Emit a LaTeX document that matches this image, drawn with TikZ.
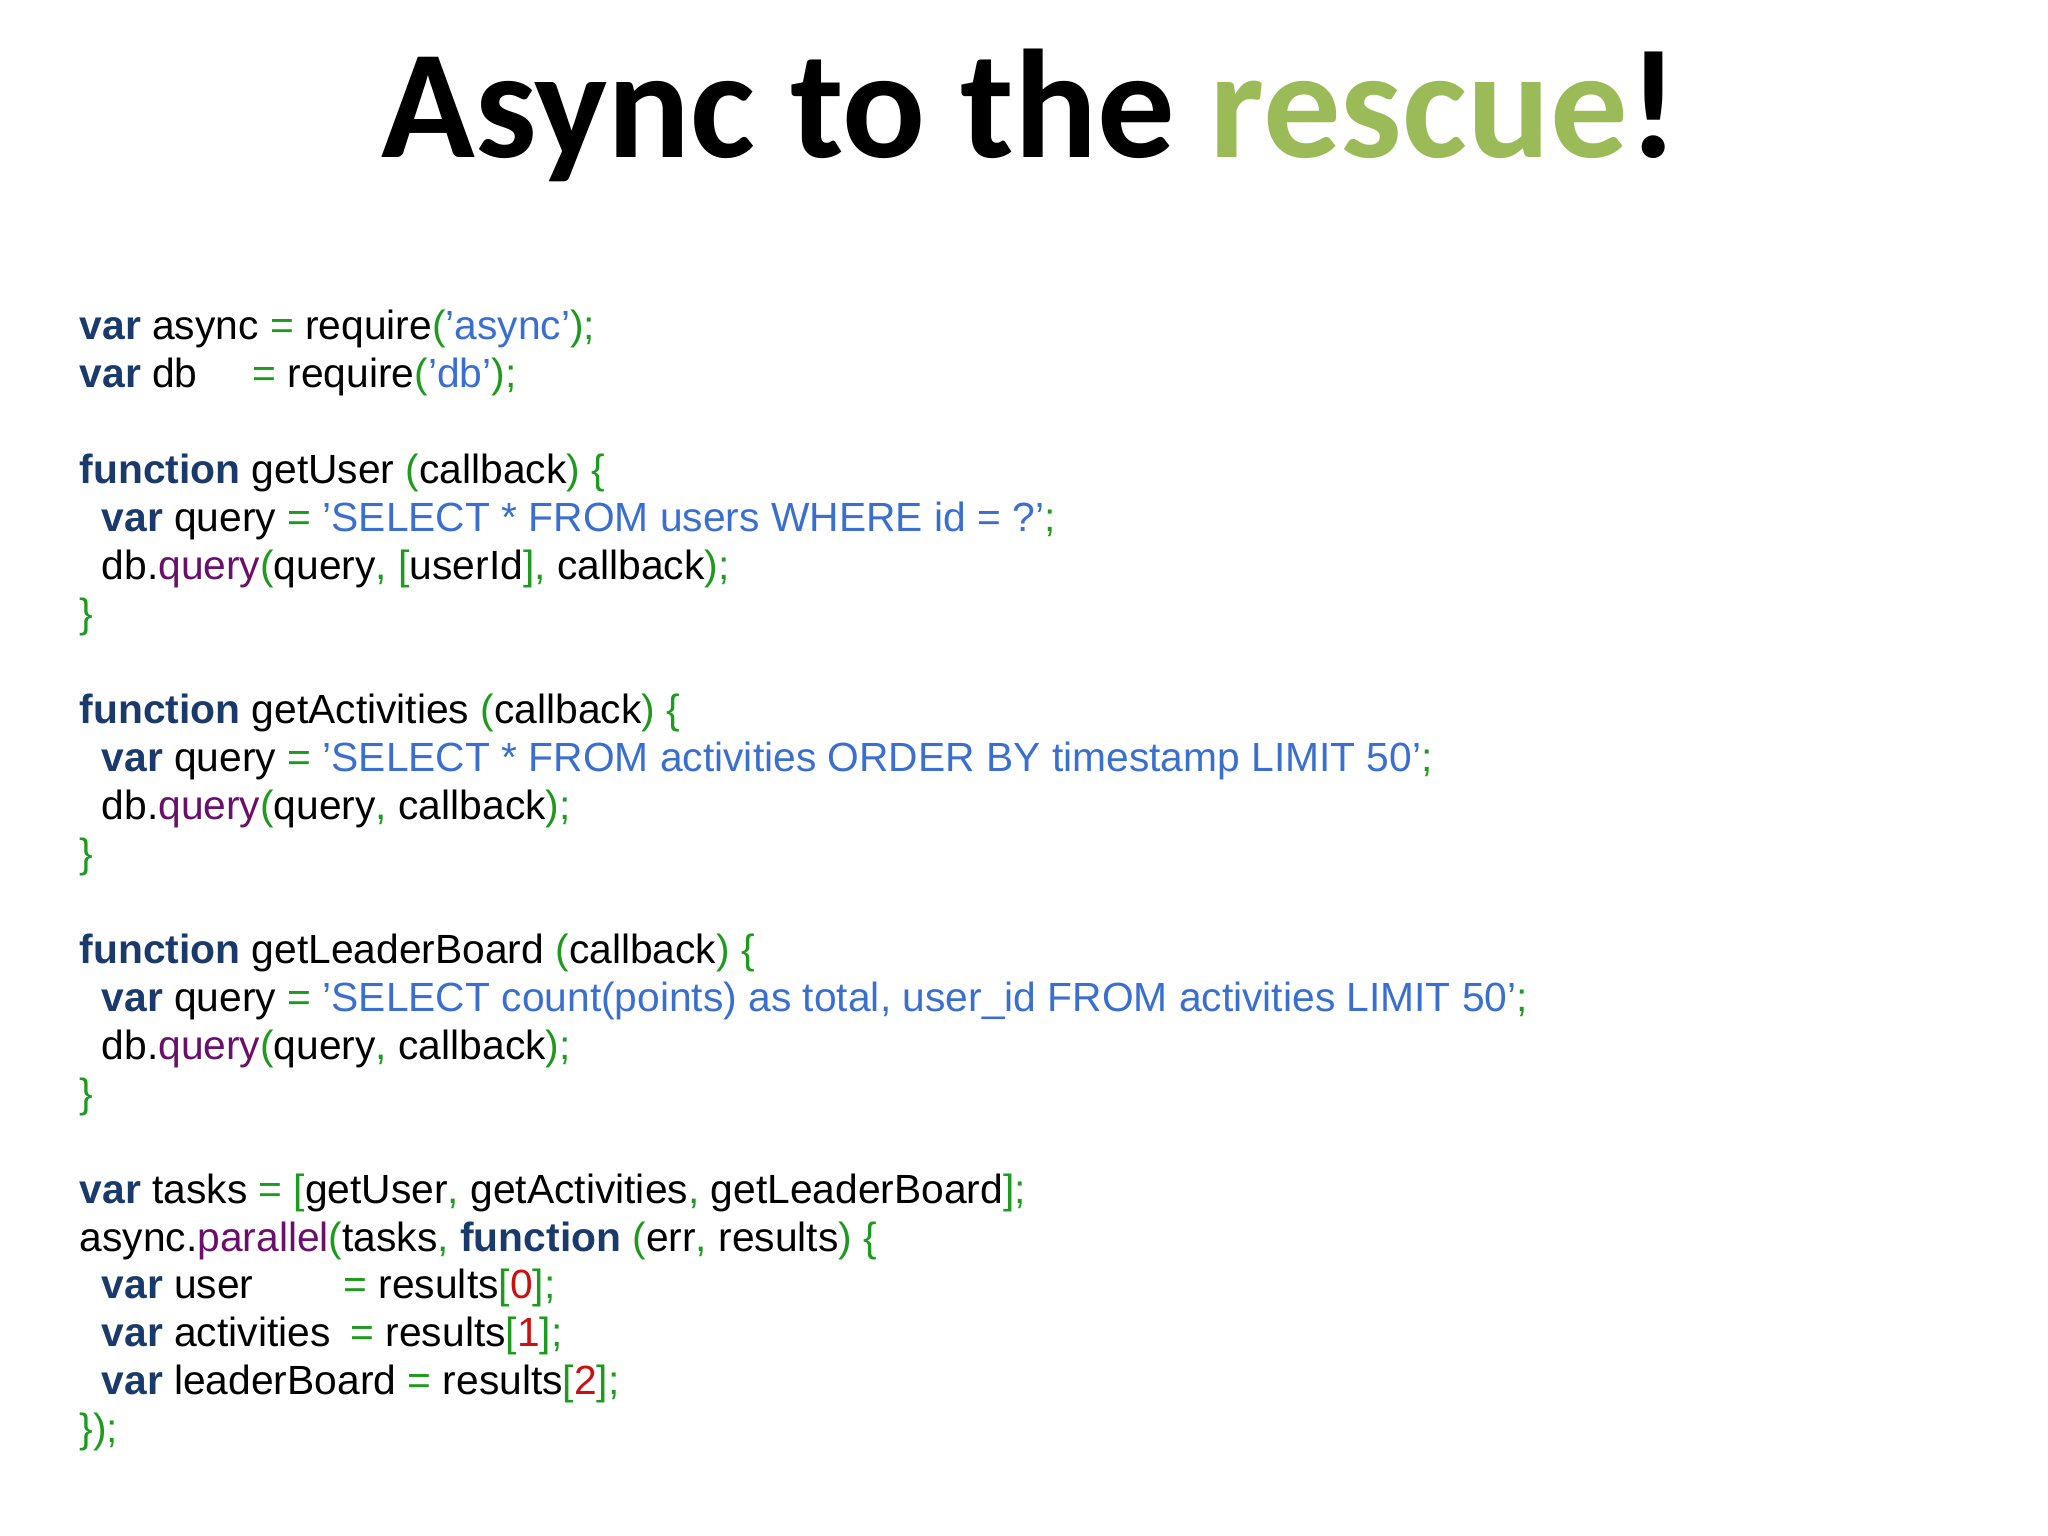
\documentclass[tikz,border=0pt]{standalone}
\usepackage{fontspec}
\setmainfont{Liberation Sans}
\newfontfamily\titlefont{Carlito}
\usepackage{xcolor}
\definecolor{kwcol}{HTML}{1A3A6B}
\definecolor{pucol}{HTML}{1E9A1E}
\definecolor{stcol}{HTML}{3A6FD0}
\definecolor{fncol}{HTML}{6A0F6A}
\definecolor{nmcol}{HTML}{CC1010}
\definecolor{rescue}{HTML}{9BBB59}
\newcommand{\kw}[1]{\textbf{\textcolor{kwcol}{#1}}}
\newcommand{\pu}[1]{\textcolor{pucol}{#1}}
\newcommand{\st}[1]{\textcolor{stcol}{#1}}
\newcommand{\fn}[1]{\textcolor{fncol}{#1}}
\newcommand{\nm}[1]{\textcolor{nmcol}{#1}}
\newcommand{\ind}{\hspace*{0.22cm}}
\begin{document}
\begin{tikzpicture}[x=1cm,y=1cm,
		codeline/.style={anchor=base west, inner sep=0pt, font=\fontsize{11.6pt}{14pt}\selectfont},
		titletext/.style={anchor=base, inner sep=0pt, font=\titlefont\bfseries\fontsize{44pt}{50pt}\selectfont}]
		\useasboundingbox (0,0) rectangle (20.48,15.36);
		%
		\node[titletext] (title) at (10.3,13.78) {Async to the \textcolor{rescue}{rescue}!};
		%
		\def\lh{0.4795}
		\node[codeline] (l0) at (0.79,11.96) {\kw{var} async \pu{=} require\pu{(}\st{'async'}\pu{);}};
		\node[codeline] (l1) at (0.79,11.96-1*\lh) {\kw{var} db\hspace*{0.55cm}\pu{=} require\pu{(}\st{’db'}\pu{);}};
		\node[codeline] (l3) at (0.79,11.96-3*\lh) {\kw{function} getUser \pu{(}callback\pu{) \{}};
		\node[codeline] (l4) at (0.79,11.96-4*\lh) {\ind\kw{var} query \pu{=} \st{'SELECT * FROM users WHERE id = ?'}\pu{;}};
		\node[codeline] (l5) at (0.79,11.96-5*\lh) {\ind db.\fn{query}\pu{(}query\pu{,} \pu{[}userId\pu{]}\pu{,} callback\pu{);}};
		\node[codeline] (l6) at (0.79,11.96-6*\lh) {\pu{\}}};
		%
		\node[codeline] (l8) at (0.79,11.96-8*\lh) {\kw{function} getActivities \pu{(}callback\pu{) \{}};
		\node[codeline] (l9) at (0.79,11.96-9*\lh) {\ind\kw{var} query \pu{=} \st{'SELECT * FROM activities ORDER BY timestamp LIMIT 50'}\pu{;}};
		\node[codeline] (l10) at (0.79,11.96-10*\lh) {\ind db.\fn{query}\pu{(}query\pu{,} callback\pu{);}};
		\node[codeline] (l11) at (0.79,11.96-11*\lh) {\pu{\}}};
		%
		\node[codeline] (l13) at (0.79,11.96-13*\lh) {\kw{function} getLeaderBoard \pu{(}callback\pu{) \{}};
		\node[codeline] (l14) at (0.79,11.96-14*\lh) {\ind\kw{var} query \pu{=} \st{'SELECT count(points) as total, user\_id FROM activities LIMIT 50'}\pu{;}};
		\node[codeline] (l15) at (0.79,11.96-15*\lh) {\ind db.\fn{query}\pu{(}query\pu{,} callback\pu{);}};
		\node[codeline] (l16) at (0.79,11.96-16*\lh) {\pu{\}}};
		%
		\node[codeline] (l18) at (0.79,11.96-18*\lh) {\kw{var} tasks \pu{=} \pu{[}getUser\pu{,} getActivities\pu{,} getLeaderBoard\pu{];}};
		\node[codeline] (l19) at (0.79,11.96-19*\lh) {async.\fn{parallel}\pu{(}tasks\pu{,} \kw{function} \pu{(}err\pu{,} results\pu{) \{}};
		\node[codeline] (l20) at (0.79,11.96-20*\lh) {\ind\kw{var} user\hspace*{0.9cm}\pu{=} results\pu{[}\nm{0}\pu{];}};
		\node[codeline] (l21) at (0.79,11.96-21*\lh) {\ind\kw{var} activities\hspace*{0.2cm}\pu{=} results\pu{[}\nm{1}\pu{];}};
		\node[codeline] (l22) at (0.79,11.96-22*\lh) {\ind\kw{var} leaderBoard \pu{=} results\pu{[}\nm{2}\pu{];}};
		\node[codeline] (l23) at (0.79,11.96-23*\lh) {\pu{\});}};
	\end{tikzpicture}
\end{document}
